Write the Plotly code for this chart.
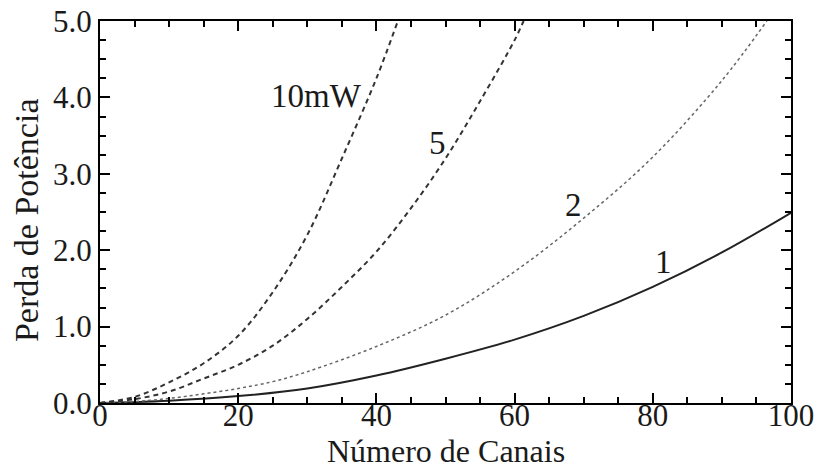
import plotly.graph_objects as go

# Power penalty (dB) versus number of channels, one curve per launch power
x_1mw = [0, 10, 20, 30, 40, 50, 60, 70, 80, 90, 100]
y_1mw = [0, 0.03, 0.09, 0.19, 0.36, 0.58, 0.83, 1.14, 1.52, 1.97, 2.49]

x_2mw = [0, 5, 10, 15, 20, 25, 30, 40, 50, 60, 70, 80, 90, 96.5]
y_2mw = [0, 0.02, 0.06, 0.12, 0.19, 0.28, 0.41, 0.74, 1.15, 1.72, 2.42, 3.22, 4.22, 5.0]

x_5mw = [0, 5, 10, 15, 20, 25, 30, 35, 40, 45, 50, 55, 60, 61.3]
y_5mw = [0, 0.05, 0.15, 0.32, 0.5, 0.75, 1.1, 1.52, 1.98, 2.55, 3.2, 3.95, 4.75, 5.0]

x_10mw = [0, 5, 10, 15, 20, 25, 30, 35, 40, 43.1]
y_10mw = [0, 0.08, 0.27, 0.52, 0.88, 1.45, 2.2, 3.2, 4.25, 5.0]

curve_labels = ["1", "2", "5", "10mW"]
label_x = [81.5, 68.5, 48.8, 31.3]
label_y = [1.85, 2.59, 3.40, 4.02]

x_title = "Número de Canais"
y_title = "Perda de Potência"

serif = "Liberation Serif, Times New Roman, serif"
ink = "#1a1a1a"

fig = go.Figure()
fig.add_trace(go.Scatter(x=x_1mw, y=y_1mw, mode="lines", line_shape="spline",
                         line=dict(color="#222222", width=2, dash="solid")))
fig.add_trace(go.Scatter(x=x_2mw, y=y_2mw, mode="lines", line_shape="spline",
                         line=dict(color="#666666", width=1.5, dash="dot")))
fig.add_trace(go.Scatter(x=x_5mw, y=y_5mw, mode="lines", line_shape="spline",
                         line=dict(color="#333333", width=2, dash="5px,4px")))
fig.add_trace(go.Scatter(x=x_10mw, y=y_10mw, mode="lines", line_shape="spline",
                         line=dict(color="#333333", width=2, dash="5px,4px")))

for txt, lx, ly in zip(curve_labels, label_x, label_y):
    fig.add_annotation(x=lx, y=ly, text=txt, showarrow=False,
                       font=dict(family=serif, size=33, color=ink))

# Axis titles placed as paper-anchored text just outside the frame
fig.add_annotation(x=0.5, y=-0.125, xref="paper", yref="paper", text=x_title,
                   showarrow=False, xanchor="center", yanchor="middle",
                   font=dict(family=serif, size=32, color=ink))
fig.add_annotation(x=-0.107, y=0.479, xref="paper", yref="paper", text=y_title,
                   showarrow=False, xanchor="center", yanchor="middle", textangle=-90,
                   font=dict(family=serif, size=34, color=ink))

axis_common = dict(
    showgrid=False, zeroline=False, showline=True, linecolor="black", linewidth=2,
    mirror="ticks", ticks="inside", tickcolor="black", tickwidth=1.5, ticklen=10,
    tickfont=dict(family=serif, size=31, color=ink), automargin=False,
)

fig.update_xaxes(range=[0, 100], dtick=20, tick0=0, ticklabelstandoff=-16,
                 minor=dict(dtick=5, ticks="inside", ticklen=6, tickcolor="black", tickwidth=1.5),
                 **axis_common)
fig.update_yaxes(range=[0, 5], dtick=1, tick0=0, tickformat=".1f",
                 minor=dict(dtick=0.25, ticks="inside", ticklen=6, tickcolor="black", tickwidth=1.5),
                 **axis_common)

fig.update_layout(
    width=817, height=470,
    margin=dict(l=100, r=26, t=21, b=67),
    paper_bgcolor="white", plot_bgcolor="white",
    showlegend=False,
)

fig.write_html("out.html")
